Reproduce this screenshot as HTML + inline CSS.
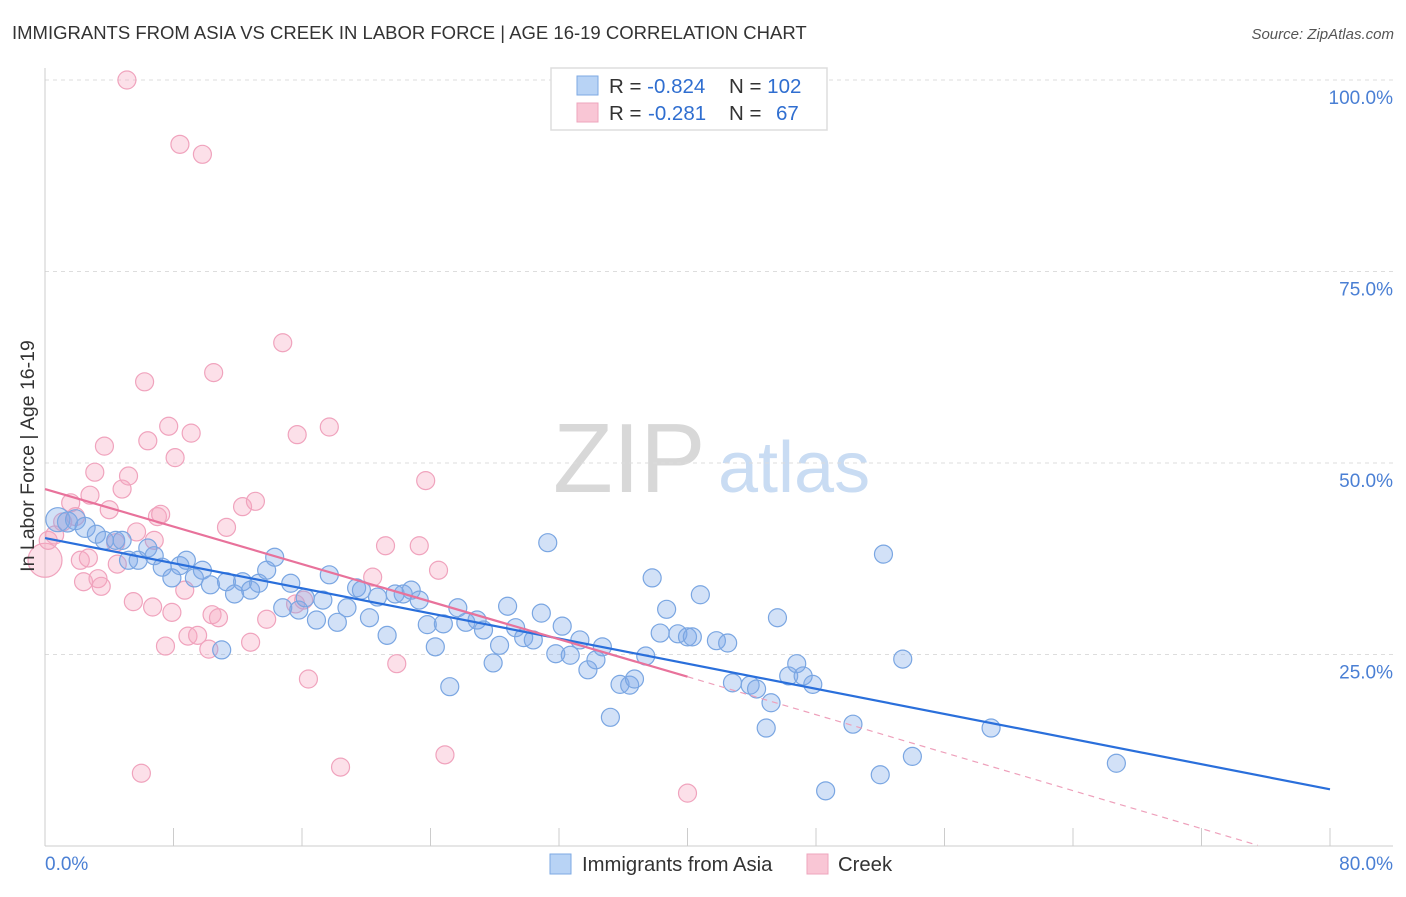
<!DOCTYPE html>
<html><head><meta charset="utf-8"><style>
body{margin:0;background:#fff;font-family:"Liberation Sans",sans-serif;}
svg text{font-family:"Liberation Sans",sans-serif;}
</style></head><body>
<svg id="chart" width="1406" height="892">
<text x="12" y="39" font-size="18.5" fill="#333">IMMIGRANTS FROM ASIA VS CREEK IN LABOR FORCE | AGE 16-19 CORRELATION CHART</text>
<text x="1394" y="39" font-size="15" fill="#555" text-anchor="end" font-style="italic">Source: ZipAtlas.com</text>
<g>
<text x="553" y="492" font-size="98" fill="#d8d8d8" font-family="Liberation Serif,serif">ZIP</text>
<text x="718" y="492" font-size="72" fill="#c9dcf3">atlas</text>
</g>
<g id="grid"></g>
<g id="axes"></g>
<g id="pts"></g>
<g id="lines"></g>
<text transform="translate(34,456) rotate(-90)" font-size="19.5" fill="#333" text-anchor="middle">In Labor Force | Age 16-19</text>
<text x="45" y="870" font-size="19" fill="#4a7fd4">0.0%</text>
<text x="1393" y="870" font-size="19" fill="#4a7fd4" text-anchor="end">80.0%</text>
<g>
<rect x="551" y="68" width="276" height="62" fill="#fff" stroke="#ddd" stroke-width="1.5"/>
<rect x="577" y="76" width="21" height="19" fill="#b8d3f5" stroke="#7ea9e3"/>
<rect x="577" y="103" width="21" height="19" fill="#f9c6d5" stroke="#eea5bd"/>
<text x="609" y="93" font-size="20.5" fill="#333">R = <tspan fill="#2f6ed0">-0.824</tspan><tspan x="729">N = </tspan><tspan fill="#2f6ed0">102</tspan></text>
<text x="609" y="120" font-size="20.5" fill="#333">R = <tspan x="648" fill="#2f6ed0">-0.281</tspan><tspan x="729">N = </tspan><tspan x="776" fill="#2f6ed0">67</tspan></text>
</g>
<g>
<rect x="550" y="854" width="21" height="20" fill="#b8d3f5" stroke="#7ea9e3"/>
<text x="582" y="871" font-size="20.3" fill="#333">Immigrants from Asia</text>
<rect x="807" y="854" width="21" height="20" fill="#f9c6d5" stroke="#eea5bd"/>
<text x="838" y="871" font-size="20.3" fill="#333">Creek</text>
</g>
</svg>
<script>
const yTicks=[100,75,50,25];
const yTickLabels=["100.0%","75.0%","50.0%","25.0%"];
const xTicks=[0,8,16,24,32,40,48,56,64,72,80];
const asiaX=[0.8,1.4,1.9,2.5,3.2,3.7,4.4,4.8,5.2,5.8,6.4,6.8,7.3,7.9,8.4,8.8,9.3,9.8,10.3,11.0,11.3,11.8,12.3,12.8,13.3,13.8,14.3,14.8,15.3,15.8,16.2,16.9,17.3,17.7,18.2,18.8,19.4,19.7,20.2,20.7,21.3,21.8,22.3,22.8,23.3,23.8,24.3,24.8,25.2,25.7,26.2,26.9,27.3,27.9,28.3,28.8,29.3,29.8,30.4,30.9,31.3,31.8,32.2,32.7,33.3,33.8,34.3,34.7,35.2,35.8,36.4,36.7,37.4,37.8,38.3,38.7,39.4,40.0,40.3,40.8,41.8,42.5,42.8,43.9,44.3,44.9,45.2,45.6,46.3,46.8,47.2,47.8,48.6,50.3,52.0,52.2,53.4,54.0,58.9,66.7];
const asiaY=[42.6,42.3,42.6,41.6,40.7,39.9,39.9,39.9,37.3,37.3,38.9,37.9,36.4,35.0,36.6,37.3,35.0,36.0,34.1,25.6,34.5,32.9,34.5,33.4,34.3,36.0,37.7,31.1,34.3,30.8,32.4,29.5,32.1,35.4,29.2,31.1,33.7,33.4,29.8,32.5,27.5,32.9,32.9,33.4,32.1,28.9,26.0,29.0,20.8,31.1,29.2,29.5,28.2,23.9,26.2,31.3,28.5,27.2,26.9,30.4,39.6,25.1,28.7,24.9,26.9,23.0,24.3,26.0,16.8,21.1,21.0,21.8,24.8,35.0,27.8,30.9,27.7,27.3,27.3,32.8,26.8,26.5,21.3,21.0,20.5,15.4,18.7,29.8,22.2,23.8,22.2,21.1,7.2,15.9,9.3,38.1,24.4,11.7,15.4,10.8];
const creekX=[0,0.2,0.6,1.1,1.6,1.9,2.2,2.4,2.7,2.8,3.1,3.3,3.5,3.7,4.0,4.4,4.5,4.8,5.2,5.5,5.7,6.0,6.2,6.4,6.7,6.8,7.0,7.2,7.5,7.7,7.9,8.1,8.4,8.7,8.9,9.1,9.5,9.8,10.2,10.4,10.5,10.8,11.3,12.3,12.8,13.1,13.8,14.8,15.6,15.7,16.1,16.4,17.7,18.4,20.4,21.2,21.9,23.3,23.7,24.5,24.9,5.1,40.0];
const creekY=[37.3,39.9,40.6,42.3,44.8,43.0,37.3,34.5,37.6,45.8,48.8,34.9,33.9,52.2,43.9,39.6,36.8,46.6,48.3,31.9,41.0,9.5,60.6,52.9,31.2,39.9,43.0,43.3,26.1,54.8,30.5,50.7,91.6,33.4,27.4,53.9,27.5,90.3,25.7,30.2,61.8,29.8,41.6,44.3,26.6,45.0,29.6,65.7,31.6,53.7,32.1,21.8,54.7,10.3,35.1,39.2,23.8,39.2,47.7,36.0,11.9,100,6.9];
const asiaFit=[40.2,7.4];
const creekFit=[46.6,22.1,0.1];
const NS="http://www.w3.org/2000/svg";
const X0=45,X1=1330,Y0=846,Y100=80;
const sx=v=>X0+(v/80)*(X1-X0);
const sy=v=>Y0-(v/100)*(Y0-Y100);
function mk(tag,attrs,parent){const e=document.createElementNS(NS,tag);for(const k in attrs)e.setAttribute(k,attrs[k]);parent.appendChild(e);return e;}
const grid=document.getElementById('grid'),axes=document.getElementById('axes'),pts=document.getElementById('pts'),lines=document.getElementById('lines');
yTicks.forEach((t,i)=>{
 const l=mk('line',{x1:45,x2:1393,y1:sy(t),y2:sy(t),stroke:'#ddd','stroke-dasharray':'4,4'},grid);
 
 
 const tx=mk('text',{x:1393,y:sy(t)+24,'font-size':19,fill:'#4a7fd4','text-anchor':'end'},grid);
 tx.textContent=yTickLabels[i];
 
 
});
const ya=mk('line',{x1:45,x2:45,y1:68,y2:846,stroke:'#ccc'},axes);


const xa=mk('line',{x1:45,x2:1393,y1:846,y2:846,stroke:'#ccc'},axes);


xTicks.forEach(t=>{
 const k=mk('line',{x1:sx(t),x2:sx(t),y1:828,y2:846,stroke:'#ccc'},axes);
 
 
});
creekX.forEach((x,i)=>{
 const r=i===0?17:9;
 const c=mk('circle',{cx:sx(x),cy:sy(creekY[i]),r:r,fill:'rgba(245,165,192,0.35)',stroke:'#f0a3bd','stroke-width':1.2},pts);
 
 
});
asiaX.forEach((x,i)=>{
 const r=i===0?12:(i<4?10:9);
 const c=mk('circle',{cx:sx(x),cy:sy(asiaY[i]),r:r,fill:'rgba(125,170,232,0.35)',stroke:'#7aa6e2','stroke-width':1.2},pts);
 
 
});
const bl=mk('line',{x1:sx(0),y1:sy(asiaFit[0]),x2:sx(80),y2:sy(asiaFit[1]),stroke:'#2a6fdb','stroke-width':2.2},lines);


const pl=mk('line',{x1:sx(0),y1:sy(creekFit[0]),x2:sx(40),y2:sy(creekFit[1]),stroke:'#e8729b','stroke-width':2.2},lines);


const pd=mk('line',{x1:sx(40),y1:sy(creekFit[1]),x2:sx(75.5),y2:sy(creekFit[2]),stroke:'#eea0bb','stroke-width':1.2,'stroke-dasharray':'6,5'},lines);


</script>
</body></html>
